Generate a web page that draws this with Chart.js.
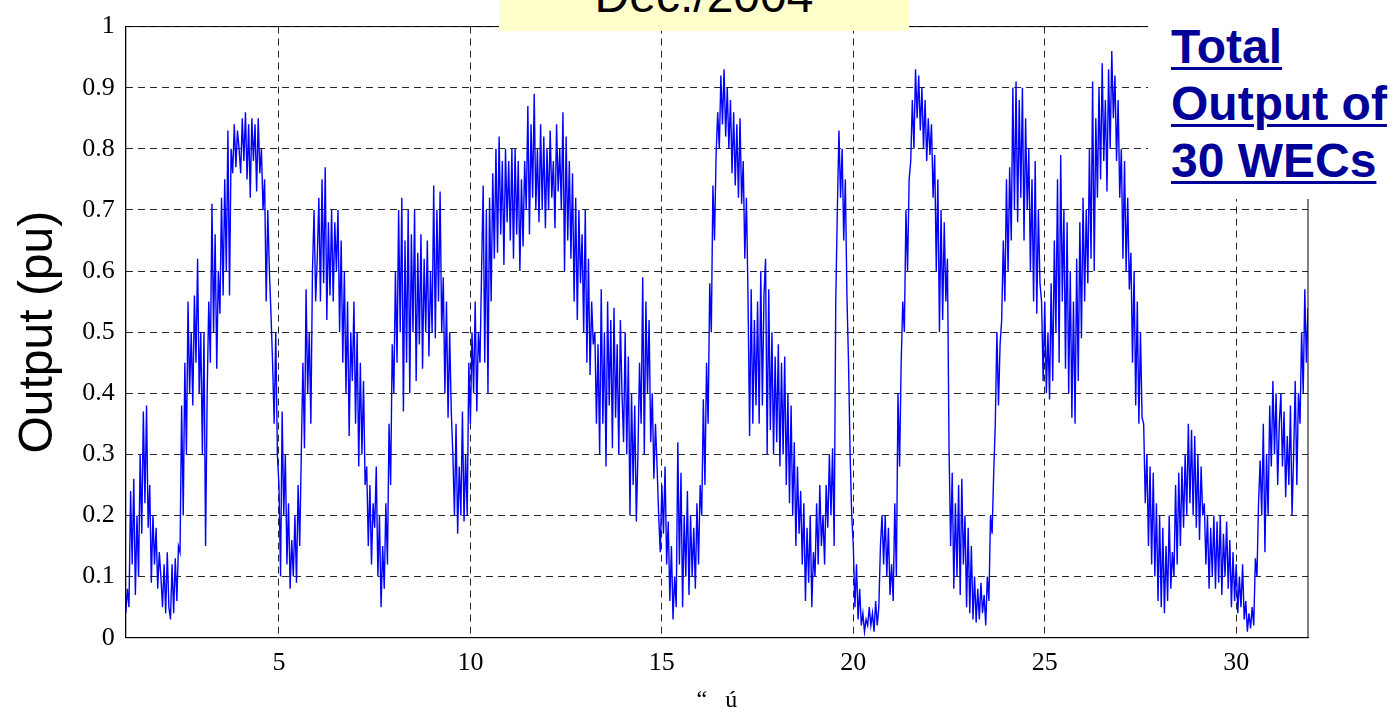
<!DOCTYPE html>
<html><head><meta charset="utf-8">
<script src="https://cdn.jsdelivr.net/npm/chart.js@4/dist/chart.umd.min.js"></script>
<style>
html,body{margin:0;padding:0;background:#fff;}
#wrap{position:relative;width:1393px;height:712px;overflow:hidden;background:#fff;}
#chart{position:absolute;left:0;top:0;}
#dec{position:absolute;left:499px;top:0;width:410px;height:31px;background:#FFFFCC;overflow:hidden;}
#dec span{position:absolute;left:0;top:-27.6px;width:410px;text-align:center;font:48px "Liberation Sans",Arial,sans-serif;line-height:48px;color:#000;white-space:nowrap;}
#total{position:absolute;left:1148px;top:0;width:245px;height:199px;background:#fff;}
#total div{position:absolute;left:23px;top:18px;font:bold 48px "Liberation Sans",Arial,sans-serif;line-height:57px;color:#000099;white-space:nowrap;}
#total span{text-decoration:underline;text-decoration-thickness:3px;text-underline-offset:4px;}
</style>
</head><body>
<div id="wrap">
<canvas id="chart" width="1393" height="712"></canvas>
<div id="dec"><span>Dec./2004</span></div>
<div id="total"><div><span>Total</span><br><span>Output of</span><br><span>30 WECs</span></div></div>
</div>
<script>
// x: day of month (hourly samples), y: total output (pu)
const xMin = 1, xMax = 31.875, hoursPerDay = 24;
const xTickValues = [5, 10, 15, 20, 25, 30];
const yTickValues = [0, 0.1, 0.2, 0.3, 0.4, 0.5, 0.6, 0.7, 0.8, 0.9, 1];

const outputWeek1 = [
 0.04,0.08,0.05,0.24,0.12,0.26,0.07,0.2,0.1,0.3,0.17,0.37,0.22,0.38,0.18,0.25,0.09,0.2,0.12,0.18,0.08,0.14,0.1,0.05,
 0.12,0.04,0.14,0.05,0.03,0.12,0.04,0.13,0.06,0.15,0.14,0.38,0.2,0.45,0.3,0.55,0.4,0.5,0.38,0.56,0.45,0.62,0.4,0.5,
 0.3,0.5,0.15,0.4,0.55,0.45,0.71,0.5,0.66,0.44,0.6,0.53,0.72,0.56,0.75,0.6,0.83,0.56,0.8,0.76,0.84,0.77,0.83,0.8,
 0.76,0.85,0.78,0.86,0.75,0.84,0.72,0.85,0.78,0.84,0.73,0.85,0.76,0.8,0.7,0.75,0.55,0.7,0.6,0.53,0.45,0.35,0.5,0.3,
 0.25,0.1,0.37,0.2,0.3,0.12,0.22,0.08,0.16,0.1,0.2,0.09,0.25,0.15,0.3,0.45,0.31,0.57,0.4,0.5,0.35,0.6,0.7,0.55,
 0.62,0.72,0.55,0.75,0.58,0.77,0.52,0.68,0.56,0.7,0.55,0.68,0.6,0.7,0.5,0.65,0.45,0.6,0.4,0.55,0.33,0.5,0.42,0.55,
 0.35,0.5,0.28,0.45,0.3,0.42,0.25,0.28,0.15,0.25,0.12,0.22,0.18,0.28,0.1,0.2,0.05,0.15,0.08,0.22,0.12,0.35,0.25,0.48
];
const outputWeek2 = [
 0.4,0.6,0.45,0.7,0.5,0.72,0.37,0.65,0.45,0.7,0.4,0.66,0.5,0.7,0.42,0.63,0.48,0.66,0.44,0.62,0.5,0.65,0.46,0.6,
 0.5,0.74,0.49,0.7,0.55,0.73,0.5,0.59,0.4,0.55,0.36,0.5,0.37,0.3,0.2,0.35,0.17,0.28,0.2,0.37,0.19,0.3,0.2,0.45,
 0.35,0.5,0.4,0.55,0.37,0.5,0.45,0.6,0.74,0.45,0.7,0.4,0.72,0.55,0.76,0.62,0.8,0.63,0.82,0.66,0.78,0.61,0.8,0.68,
 0.78,0.65,0.8,0.62,0.8,0.66,0.78,0.6,0.75,0.64,0.78,0.7,0.87,0.66,0.84,0.72,0.89,0.7,0.8,0.68,0.84,0.7,0.82,0.67,
 0.8,0.7,0.83,0.72,0.78,0.67,0.84,0.73,0.8,0.7,0.86,0.6,0.82,0.65,0.78,0.62,0.76,0.55,0.72,0.52,0.7,0.58,0.66,0.5,
 0.7,0.45,0.62,0.43,0.55,0.48,0.5,0.35,0.48,0.3,0.57,0.35,0.5,0.28,0.55,0.38,0.52,0.31,0.54,0.36,0.48,0.3,0.52,0.4,
 0.32,0.5,0.3,0.46,0.2,0.4,0.25,0.38,0.19,0.3,0.45,0.35,0.59,0.3,0.55,0.4,0.52,0.32,0.4,0.26,0.35,0.28,0.2,0.14
];
const outputWeek3 = [
 0.25,0.17,0.28,0.12,0.19,0.06,0.15,0.03,0.1,0.05,0.32,0.12,0.27,0.05,0.2,0.1,0.24,0.07,0.2,0.1,0.18,0.08,0.22,0.12,
 0.25,0.2,0.39,0.25,0.45,0.35,0.58,0.5,0.74,0.65,0.79,0.86,0.8,0.92,0.84,0.93,0.82,0.9,0.8,0.88,0.76,0.86,0.74,0.84,
 0.72,0.85,0.71,0.78,0.62,0.72,0.56,0.33,0.57,0.35,0.52,0.38,0.55,0.35,0.6,0.38,0.56,0.62,0.3,0.57,0.34,0.5,0.3,0.46,
 0.32,0.48,0.28,0.45,0.3,0.46,0.25,0.4,0.22,0.38,0.2,0.32,0.15,0.28,0.17,0.24,0.12,0.22,0.06,0.18,0.09,0.2,0.05,0.14,
 0.1,0.22,0.12,0.25,0.15,0.2,0.12,0.25,0.18,0.3,0.2,0.31,0.15,0.55,0.7,0.83,0.72,0.8,0.65,0.75,0.56,0.45,0.3,0.2,
 0.15,0.05,0.12,0.03,0.08,0.02,0.04,0.01,0.03,0.02,0.05,0.02,0.04,0.01,0.06,0.02,0.05,0.15,0.2,0.12,0.2,0.1,0.18,0.07,
 0.12,0.06,0.22,0.1,0.4,0.28,0.45,0.55,0.5,0.7,0.6,0.75,0.78,0.88,0.8,0.93,0.85,0.92,0.83,0.9,0.8,0.88,0.78,0.85
];
const outputWeek4 = [
 0.79,0.84,0.72,0.79,0.6,0.75,0.5,0.7,0.52,0.68,0.55,0.62,0.31,0.15,0.27,0.08,0.22,0.1,0.25,0.07,0.26,0.12,0.2,0.05,
 0.18,0.04,0.15,0.03,0.1,0.025,0.08,0.03,0.09,0.04,0.07,0.02,0.1,0.06,0.2,0.17,0.27,0.35,0.5,0.38,0.48,0.52,0.65,0.55,
 0.75,0.6,0.77,0.65,0.9,0.7,0.91,0.68,0.88,0.72,0.9,0.65,0.85,0.7,0.8,0.6,0.75,0.55,0.78,0.53,0.7,0.58,0.55,0.42,
 0.55,0.4,0.5,0.39,0.58,0.42,0.65,0.5,0.75,0.45,0.79,0.55,0.7,0.44,0.68,0.4,0.6,0.36,0.55,0.35,0.62,0.42,0.68,0.49,
 0.72,0.55,0.7,0.58,0.8,0.62,0.91,0.6,0.85,0.72,0.9,0.75,0.94,0.78,0.88,0.73,0.93,0.8,0.96,0.85,0.92,0.78,0.88,0.72,
 0.8,0.62,0.78,0.6,0.72,0.57,0.63,0.45,0.6,0.38,0.55,0.35,0.5,0.36,0.35,0.22,0.3,0.15,0.28,0.12,0.27,0.1,0.22,0.06,
 0.2,0.05,0.18,0.04,0.15,0.06,0.2,0.08,0.14,0.1,0.25,0.12,0.27,0.15,0.28,0.18,0.3,0.2,0.35,0.22,0.34,0.2,0.33,0.18
];
const outputWeek5 = [
 0.3,0.16,0.28,0.2,0.22,0.12,0.2,0.08,0.18,0.1,0.2,0.08,0.19,0.09,0.2,0.07,0.17,0.1,0.19,0.08,0.16,0.05,0.14,0.06,
 0.12,0.04,0.1,0.05,0.12,0.03,0.06,0.01,0.04,0.015,0.05,0.02,0.13,0.1,0.22,0.29,0.2,0.35,0.14,0.3,0.2,0.38,0.28,0.42,
 0.3,0.4,0.25,0.35,0.4,0.28,0.37,0.23,0.33,0.25,0.38,0.2,0.3,0.42,0.25,0.4,0.35,0.5,0.4,0.57,0.45,0.54
];

const outputValues = [].concat(outputWeek1, outputWeek2, outputWeek3, outputWeek4, outputWeek5);
const points = outputValues.map((v, i) => ({ x: xMin + i / hoursPerDay, y: v }));

const boxPlugin = {
  id: 'box',
  afterDraw(chart) {
    const { ctx, chartArea: a } = chart;
    ctx.save();
    ctx.strokeStyle = '#000';
    ctx.lineWidth = 1;
    ctx.setLineDash([]);
    ctx.strokeRect(a.left, a.top, a.right - a.left, a.bottom - a.top);
    ctx.restore();
  }
};

const tickFont = { family: '"Liberation Serif", "Times New Roman", serif', size: 26 };

new Chart(document.getElementById('chart').getContext('2d'), {
  type: 'line',
  data: { datasets: [{ data: points, borderColor: '#0000FF', borderWidth: 1.4, pointRadius: 0, tension: 0, fill: false }] },
  options: {
    responsive: false, animation: false, devicePixelRatio: 1,
    layout: { padding: { top: 17.3, right: 85, bottom: 0, left: 0 } },
    plugins: { legend: { display: false }, tooltip: { enabled: false } },
    scales: {
      x: {
        type: 'linear', min: xMin, max: xMax,
        afterBuildTicks: s => { s.ticks = xTickValues.map(v => ({ value: v })); },
        afterFit: s => { s.height = 74.3; },
        grid: { color: 'rgba(0,0,0,0.85)', lineWidth: 1, drawTicks: false },
        border: { display: true, color: '#000', width: 1, dash: [7, 5] },
        ticks: { font: tickFont, color: '#000', padding: 10, maxRotation: 0, autoSkip: false, callback: v => String(v) },
        title: { display: true, text: '\u201C   \u00FA', font: { family: '"Liberation Serif", "Times New Roman", serif', size: 24 }, color: '#000', padding: { top: 0, bottom: -3 } }
      },
      y: {
        min: 0, max: 1,
        afterBuildTicks: s => { s.ticks = yTickValues.map(v => ({ value: v })); },
        afterFit: s => { s.width = 125.8; },
        grid: { color: 'rgba(0,0,0,0.85)', lineWidth: 1, drawTicks: false },
        border: { display: true, color: '#000', width: 1, dash: [7, 5] },
        ticks: { font: tickFont, color: '#000', padding: 11, autoSkip: false, callback: v => String(Math.round(v * 10) / 10) },
        title: { display: true, text: 'Output (pu)', font: { family: '"Liberation Sans", Arial, sans-serif', size: 48 }, color: '#000', padding: { top: 10, bottom: 0 } }
      }
    }
  },
  plugins: [boxPlugin]
});
</script>
</body></html>
